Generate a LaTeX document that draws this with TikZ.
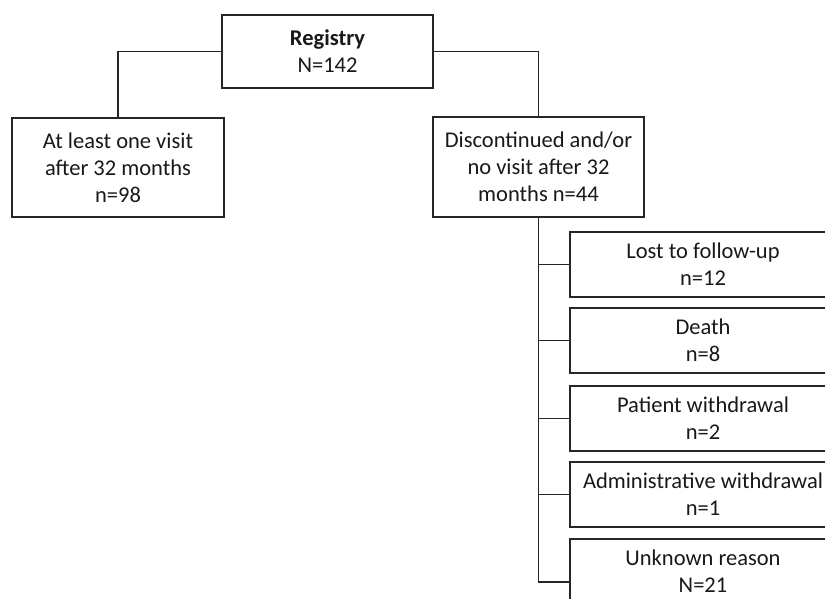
\documentclass[tikz,border=0pt]{standalone}
\usepackage{fontspec}
\setmainfont{Carlito}
\begin{document}
\begin{tikzpicture}[x=1pt,y=-1pt,
  box/.style={draw=black!85, line width=1.4pt, fill=white, align=center, inner sep=0pt,
    font=\fontsize{22.5}{27}\selectfont, text=black!90},
  link/.style={draw=black!85, line width=1.4pt}]
\useasboundingbox (0,0) rectangle (825,599);
\clip (0,0) rectangle (825,599);
\fill[white] (0,0) rectangle (825,599);
\node[box, minimum width=211pt, minimum height=73pt] (reg) at (327.5,51.5) {\textbf{Registry}\\N=142};
\node[box, minimum width=212pt, minimum height=99pt] (left) at (118,167.5) {At least one visit\\after 32 months\\n=98};
\node[box, minimum width=211pt, minimum height=100pt] (right) at (538.5,167) {Discontinued and/or\\no visit after 32\\months n=44};
\node[box, minimum width=266pt, minimum height=65pt] (b1) at (703,264.5) {Lost to follow-up\\n=12};
\node[box, minimum width=266pt, minimum height=65pt] (b2) at (703,340.5) {Death\\n=8};
\node[box, minimum width=266pt, minimum height=65pt] (b3) at (703,418.5) {Patient withdrawal\\n=2};
\node[box, minimum width=266pt, minimum height=65pt] (b4) at (703,494.5) {Administrative withdrawal\\n=1};
\node[box, minimum width=266pt, minimum height=65pt] (b5) at (703,571.5) {Unknown reason\\N=21};
\draw[link] (reg.west) -| (left.north);
\draw[link] (reg.east) -| (right.north);
\draw[link] (right.south) |- (b1.west);
\draw[link] (right.south) |- (b2.west);
\draw[link] (right.south) |- (b3.west);
\draw[link] (right.south) |- (b4.west);
\draw[link] (right.south) |- ([yshift=-10.5pt]b5.west);
\end{tikzpicture}
\end{document}
